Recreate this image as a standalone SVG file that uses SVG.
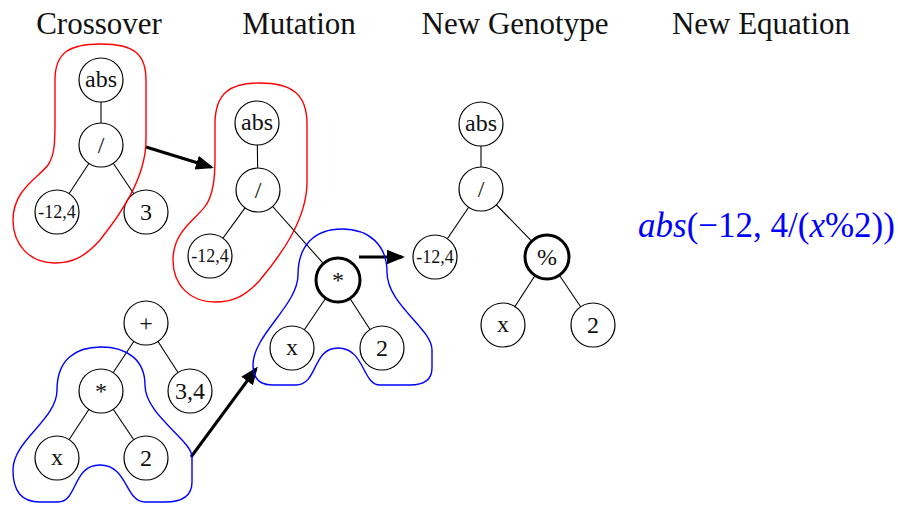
<svg xmlns="http://www.w3.org/2000/svg" width="898" height="505" viewBox="0 0 898 505">
<style>
.n{fill:#fff;stroke:#000;stroke-width:1.2}
.nb{fill:#fff;stroke:#000;stroke-width:3}
.t{font-family:"Liberation Serif","Times New Roman",serif;font-size:24px;text-anchor:middle;fill:#111}
.s{font-size:18px}
.h{font-family:"Liberation Serif","Times New Roman",serif;font-size:31px;text-anchor:middle;fill:#111}
.eq{font-family:"Liberation Serif","Times New Roman",serif;font-size:35px;fill:#00f}
.i{font-style:italic}
.e{stroke:#000;stroke-width:1.1}
.a{stroke:#000;stroke-width:3;fill:none}
.red{fill:none;stroke:#f00;stroke-width:1.4}
.blue{fill:none;stroke:#00f;stroke-width:1.4}
</style>
<defs>
<marker id="ah" markerWidth="6" markerHeight="6" refX="5" refY="3" orient="auto" markerUnits="strokeWidth">
<path d="M0,0.6 L6,3 L0,5.4 Z" fill="#000"/>
</marker>
</defs>
<g id="titles">
<text class="h" x="99" y="34">Crossover</text>
<text class="h" x="299" y="34">Mutation</text>
<text class="h" x="515" y="34">New Genotype</text>
<text class="h" x="761" y="34">New Equation</text>
</g>
<g id="connectors">
<line class="e" x1="101" y1="80" x2="101" y2="145"/>
<line class="e" x1="101" y1="145" x2="57" y2="212"/>
<line class="e" x1="101" y1="145" x2="146" y2="212"/>
<line class="e" x1="146" y1="323" x2="101" y2="391"/>
<line class="e" x1="146" y1="323" x2="190" y2="391"/>
<line class="e" x1="101" y1="391" x2="57" y2="458"/>
<line class="e" x1="101" y1="391" x2="146" y2="458"/>
<line class="e" x1="257" y1="123" x2="258" y2="190"/>
<line class="e" x1="258" y1="190" x2="210" y2="256"/>
<line class="e" x1="258" y1="190" x2="338" y2="280"/>
<line class="e" x1="338" y1="280" x2="292" y2="348"/>
<line class="e" x1="338" y1="280" x2="382" y2="348"/>
<line class="e" x1="481" y1="124" x2="481" y2="189"/>
<line class="e" x1="481" y1="189" x2="435" y2="257"/>
<line class="e" x1="481" y1="189" x2="547" y2="257"/>
<line class="e" x1="547" y1="257" x2="503" y2="325"/>
<line class="e" x1="547" y1="257" x2="593" y2="325"/>
<line class="a" x1="146" y1="147" x2="211" y2="167" marker-end="url(#ah)"/>
<line class="a" x1="359" y1="257" x2="402" y2="257" marker-end="url(#ah)"/>
<line class="a" x1="191" y1="457" x2="256" y2="369" marker-end="url(#ah)"/>
</g>
<g id="crossover-abs"><circle class="n" cx="101" cy="80" r="22"/><text class="t" x="101" y="87">abs</text></g>
<g id="crossover-div"><circle class="n" cx="101" cy="145" r="22"/><text class="t" x="101" y="153">/</text></g>
<g id="crossover-neg"><circle class="n" cx="57" cy="212" r="22"/><text class="t s" x="57" y="218">-12,4</text></g>
<g id="crossover-3"><circle class="n" cx="146" cy="212" r="22"/><text class="t" x="146" y="220">3</text></g>
<g id="crossover-plus"><circle class="n" cx="146" cy="323" r="22"/><text class="t" x="146" y="331">+</text></g>
<g id="crossover-mul"><circle class="n" cx="101" cy="391" r="22"/><text class="t" x="101" y="399">*</text></g>
<g id="crossover-34"><circle class="n" cx="190" cy="391" r="22"/><text class="t" x="190" y="399">3,4</text></g>
<g id="crossover-x"><circle class="n" cx="57" cy="458" r="22"/><text class="t" x="57" y="465">x</text></g>
<g id="crossover-2"><circle class="n" cx="146" cy="458" r="22"/><text class="t" x="146" y="466">2</text></g>
<g id="mutation-abs"><circle class="n" cx="257" cy="123" r="22"/><text class="t" x="257" y="130">abs</text></g>
<g id="mutation-div"><circle class="n" cx="258" cy="190" r="22"/><text class="t" x="258" y="198">/</text></g>
<g id="mutation-neg"><circle class="n" cx="210" cy="256" r="22"/><text class="t s" x="210" y="262">-12,4</text></g>
<g id="mutation-mul"><circle class="nb" cx="338" cy="280" r="22"/><text class="t" x="338" y="288">*</text></g>
<g id="mutation-x"><circle class="n" cx="292" cy="348" r="22"/><text class="t" x="292" y="355">x</text></g>
<g id="mutation-2"><circle class="n" cx="382" cy="348" r="22"/><text class="t" x="382" y="356">2</text></g>
<g id="new-abs"><circle class="n" cx="481" cy="124" r="22"/><text class="t" x="481" y="131">abs</text></g>
<g id="new-div"><circle class="n" cx="481" cy="189" r="22"/><text class="t" x="481" y="197">/</text></g>
<g id="new-neg"><circle class="n" cx="435" cy="257" r="22"/><text class="t s" x="435" y="263">-12,4</text></g>
<g id="new-mod"><circle class="nb" cx="547" cy="257" r="22"/><text class="t" x="547" y="265">%</text></g>
<g id="new-x"><circle class="n" cx="503" cy="325" r="22"/><text class="t" x="503" y="332">x</text></g>
<g id="new-2"><circle class="n" cx="593" cy="325" r="22"/><text class="t" x="593" y="333">2</text></g>
<g id="outlines">
<path class="red" d="M55,80 C55,52 70,44 101,44 C134,44 146,54 146,80 L146,140 C146,178 120,215 100,240 C85,257 72,263 55,263 C30,263 13,245 13,220 C13,190 38,178 48,165 C55,155 55,140 55,120 Z"/>
<path class="red" d="M215,124 C215,94 229,83 259,83 C292,83 307,94 307,124 L307,182 C307,220 280,256 260,280 C245,297 232,302 215,302 C190,302 173,285 173,260 C173,230 198,218 206,205 C213,195 215,180 215,160 Z"/>
<path class="blue" d="M57,390 C57,360 75,347 101,347 C127,347 145,360 145,385 C145,415 192,440 192,457 L192,482 C192,496 183,502 165,502 L145,502 C125,502 128,465 100,465 C72,465 78,502 58,502 L40,502 C22,502 13,492 13,470 C13,440 57,420 57,390 Z"/>
<path class="blue" d="M298,275 C298,245 315,229 342,229 C369,229 387,245 387,272 C387,305 432,328 432,350 L432,368 C432,380 424,385 410,385 L380,385 C362,385 365,348 338,348 C312,348 318,385 296,385 L273,385 C259,385 253,378 253,365 C253,335 298,305 298,275 Z"/>
</g>
<g id="equation">
<text class="eq" x="638" y="237"><tspan class="i">abs</tspan>(−12, 4/(<tspan class="i">x</tspan>%2))</text>
</g>
</svg>
